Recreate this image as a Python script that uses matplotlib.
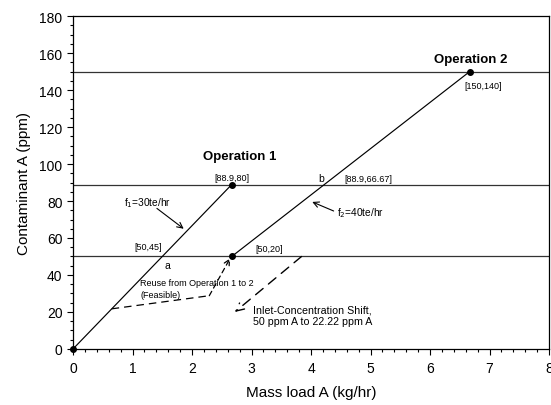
import matplotlib.pyplot as plt
from matplotlib.ticker import MultipleLocator

plt.rcParams['font.family'] = ['Liberation Sans', 'DejaVu Sans']

# limiting concentration levels (ppm)
levels = [50, 88.9, 150]

# operation composite lines: mass load (kg/hr) vs concentration (ppm)
op1_load = [0, 2.667]
op1_conc = [0, 88.9]
op2_load = [2.667, 6.667]
op2_conc = [50, 150]

# reuse path from operation 1 to 2
reuse_load = [0.65, 2.29]
reuse_conc = [21.7, 28.8]
reuse_end = (2.64, 49)

# inlet concentration shift
shift_start = (3.84, 50)
shift_end = (2.72, 20)

fig = plt.figure(figsize=(5.51, 4.06), dpi=100)
ax = fig.add_axes([0.1325, 0.138, 0.864, 0.82])

for lv in levels:
    ax.axhline(lv, color='#333333', lw=0.9)

ax.plot(op1_load, op1_conc, color='black', lw=0.85)
ax.plot(op2_load, op2_conc, color='black', lw=0.85)
ax.plot([0, op1_load[1], op2_load[0], op2_load[1]],
        [0, op1_conc[1], op2_conc[0], op2_conc[1]],
        'o', color='black', ms=4, clip_on=False, zorder=5)

ax.plot(reuse_load, reuse_conc, color='black', lw=0.9, dashes=(6, 4))
ax.annotate('', xy=reuse_end, xytext=(reuse_load[1], reuse_conc[1]),
            arrowprops=dict(arrowstyle='->', color='black', lw=0.9,
                            linestyle=(0, (4, 3)), shrinkA=0, shrinkB=0))
ax.annotate('', xy=shift_end, xytext=shift_start,
            arrowprops=dict(arrowstyle='->', color='black', lw=1.0,
                            linestyle=(0, (7, 5)), shrinkA=0, shrinkB=0,
                            mutation_scale=14))

# flow-rate pointers
ax.text(1.25, 79.5, 'f$_1$=30te/hr', fontsize=7.3, ha='center', va='center')
ax.annotate('', xy=(1.86, 65), xytext=(1.41, 76),
            arrowprops=dict(arrowstyle='->', color='black', lw=0.8,
                            shrinkA=0, shrinkB=0))
ax.text(4.44, 74, 'f$_2$=40te/hr', fontsize=7.3, ha='left', va='center')
ax.annotate('', xy=(4.02, 79.5), xytext=(4.38, 74.6),
            arrowprops=dict(arrowstyle='->', color='black', lw=0.8,
                            shrinkA=0, shrinkB=0))

ax.text(2.8, 104.3, 'Operation 1', fontsize=9.5, fontweight='bold', ha='center', va='center')
ax.text(6.68, 156.8, 'Operation 2', fontsize=9.5, fontweight='bold', ha='center', va='center')

small = 6.5
ax.text(2.67, 92.5, '[88.9,80]', fontsize=small, ha='center', va='center')
ax.text(6.9, 142.7, '[150,140]', fontsize=small, ha='center', va='center')
ax.text(4.97, 92.4, '[88.9,66.67]', fontsize=small, ha='center', va='center')
ax.text(4.17, 92.4, 'b', fontsize=7.5, ha='center', va='center')
ax.text(1.26, 55.5, '[50,45]', fontsize=small, ha='center', va='center')
ax.text(1.58, 45.4, 'a', fontsize=7.5, ha='center', va='center')
ax.text(3.3, 54.5, '[50,20]', fontsize=small, ha='center', va='center')
ax.text(1.13, 35.7, 'Reuse from Operation 1 to 2', fontsize=small, ha='left', va='center')
ax.text(1.13, 29.2, '(Feasible)', fontsize=small, ha='left', va='center')
ax.text(3.03, 18.4, 'Inlet-Concentration Shift,\n50 ppm A to 22.22 ppm A',
        fontsize=7.7, ha='left', va='center', linespacing=1.2)

ax.set_xlim(0, 8)
ax.set_ylim(0, 180)
ax.xaxis.set_major_locator(MultipleLocator(1))
ax.xaxis.set_minor_locator(MultipleLocator(0.2))
ax.yaxis.set_major_locator(MultipleLocator(20))
ax.yaxis.set_minor_locator(MultipleLocator(5))
ax.tick_params(which='major', length=4, width=0.8, labelsize=10, direction='out')
ax.tick_params(axis='x', which='major', pad=5)
ax.tick_params(which='minor', length=2.5, width=0.8, direction='out')
for s in ax.spines.values():
    s.set_linewidth(0.9)

ax.set_xlabel('Mass load A (kg/hr)', fontsize=11, labelpad=7)
ax.set_ylabel('Contaminant A (ppm)', fontsize=11, labelpad=6)

fig.savefig('out.png', dpi=100)
